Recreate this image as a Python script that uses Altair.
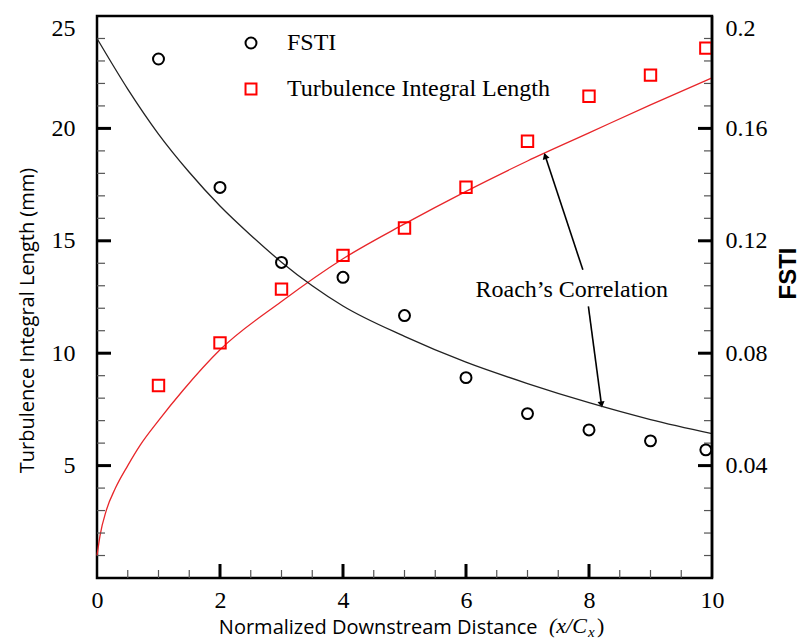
import math
import altair as alt
import pandas as pd

# ---------------- data ----------------
x_obs = [1, 2, 3, 4, 5, 6, 7, 8, 9, 9.9]
fsti_obs = [0.1847, 0.139, 0.1123, 0.107, 0.0934, 0.0713, 0.0585, 0.0527, 0.0488, 0.0456]
length_obs = [8.56, 10.46, 12.85, 14.35, 15.57, 17.38, 19.43, 21.43, 22.37, 23.57]

# Roach's correlation curves
fsti_curve_x = [0, 0.5, 1, 1.5, 2, 2.5, 3, 3.5, 4, 5, 6, 7, 8, 9, 10]
fsti_curve = [0.192, 0.174, 0.158, 0.1444, 0.1324, 0.122, 0.1124, 0.104, 0.0968,
              0.086, 0.0768, 0.0692, 0.0624, 0.0564, 0.0514]
length_curve_x = [0, 0.05, 0.15, 0.3, 0.5, 0.7, 1, 1.4, 2, 3, 4, 5, 6, 7, 8, 9, 10]
length_curve = [1.0, 1.9, 3.0, 4.0, 5.0, 5.9, 7.0, 8.35, 10.15, 12.3, 14.2, 15.75,
                17.2, 18.55, 19.8, 21.05, 22.25]

series_names = ["FSTI", "Turbulence Integral Length"]

# axis ticks
x_major = [0, 2, 4, 6, 8, 10]
x_minor = [0.5, 1, 1.5, 2.5, 3, 3.5, 4.5, 5, 5.5, 6.5, 7, 7.5, 8.5, 9, 9.5]
left_major = [5, 10, 15, 20, 25]
left_minor = [1, 2, 3, 4, 6, 7, 8, 9, 11, 12, 13, 14, 16, 17, 18, 19, 21, 22, 23, 24]
right_major = [0.04, 0.08, 0.12, 0.16, 0.2]
right_minor = [0.008, 0.016, 0.024, 0.032, 0.048, 0.056, 0.064, 0.072, 0.088, 0.096,
               0.104, 0.112, 0.128, 0.136, 0.144, 0.152, 0.168, 0.176, 0.184, 0.192]

# annotation (data coordinates on the left axis)
annot_text = "Roach\u2019s Correlation"
annot_x = [7.72]
annot_y = [12.8]
arrow_tail_x = [7.90, 7.99]
arrow_tail_y = [13.71, 12.08]
arrow_head_x = [7.27, 8.21]
arrow_head_y = [18.92, 7.56]

# ---------------- layout ----------------
W, H = 615, 562
PX_X = W / 10.0
PX_Y = H / 25.0

SERIF = "Liberation Serif"
SANS = "Open Sans"
FS = 24

xscale = alt.Scale(domain=[0, 10], nice=False, zero=False)
yscaleL = alt.Scale(domain=[0, 25], nice=False, zero=False)
yscaleR = alt.Scale(domain=[0, 0.2], nice=False, zero=False)

color_scale = alt.Scale(domain=series_names, range=["black", "#ff0000"])
shape_scale = alt.Scale(domain=series_names, range=["circle", "square"])
legend = alt.Legend(
    title=None, orient="none", legendX=142, legendY=15, padding=0,
    labelFont=SERIF, labelFontSize=FS, labelColor="black", labelLimit=0,
    symbolSize=120, symbolStrokeWidth=2, rowPadding=22, labelOffset=24,
)

x_axis = alt.Axis(
    values=x_major, domain=False, ticks=False, tickSize=0, grid=False,
    labelFont=SERIF, labelFontSize=FS, labelColor="black", labelPadding=10,
    labelFlush=False,
    title="Normalized Downstream Distance", titleFont=SANS, titleFontSize=20,
    titleFontWeight="normal", titleColor="black", titleAlign="right",
    titleX=440, titleY=55, titleBaseline="alphabetic",
)
y_axis_left = alt.Axis(
    values=left_major, orient="left", domain=False, ticks=False, tickSize=0, grid=False,
    labelFont=SERIF, labelFontSize=FS, labelColor="black", labelPadding=22,
    labelFlush=True,
    title="Turbulence Integral Length (mm)", titleFont=SANS, titleFontSize=20,
    titleFontWeight="normal", titleColor="black", titleAngle=270,
    titleX=-64, titleY=304, titleBaseline="alphabetic", titleAlign="center",
)
y_axis_right = alt.Axis(
    values=right_major, orient="right", domain=False, ticks=False, tickSize=0, grid=False,
    labelFont=SERIF, labelFontSize=FS, labelColor="black", labelPadding=13,
    labelFlush=True, format="~g",
    title="FSTI", titleFont="Liberation Sans", titleFontSize=24,
    titleFontWeight="bold", titleColor="black", titleAngle=270,
    titleX=83, titleY=257, titleBaseline="alphabetic", titleAlign="center",
)


def X(field):
    return alt.X(field, scale=xscale, axis=x_axis)


def YL(field):
    return alt.Y(field, scale=yscaleL, axis=y_axis_left)


def YR(field):
    return alt.Y(field, scale=yscaleR, axis=y_axis_right)


# ---------------- data frames ----------------
df_len_curve = pd.DataFrame({"x": length_curve_x, "y": length_curve})
df_fsti_curve = pd.DataFrame({"x": fsti_curve_x, "y": fsti_curve})
df_len = pd.DataFrame({"x": x_obs, "y": length_obs, "series": series_names[1]})
df_fsti = pd.DataFrame({"x": x_obs, "y": fsti_obs, "series": series_names[0]})

arrows = []
for tx, ty, hx, hy in zip(arrow_tail_x, arrow_tail_y, arrow_head_x, arrow_head_y):
    dxp = (hx - tx) * PX_X
    dyp = -(hy - ty) * PX_Y  # screen-down positive
    ln = math.hypot(dxp, dyp)
    ang = math.degrees(math.atan2(dxp, -dyp)) % 360
    back = 3.5
    arrows.append({
        "x": tx, "y": ty,
        "x2": hx - dxp / ln * 2 / PX_X, "y2": hy + dyp / ln * 2 / PX_Y,
        "px": hx - dxp / ln * back / PX_X,
        "py": hy + dyp / ln * back / PX_Y,
        "angle": ang,
    })
df_arrows = pd.DataFrame(arrows)
df_annot = pd.DataFrame({"x": annot_x, "y": annot_y, "t": [annot_text]})

# ---------------- left (length) layers ----------------
len_line = alt.Chart(df_len_curve).mark_line(
    color="#e8262a", strokeWidth=1.3, interpolate="monotone"
).encode(x=X("x:Q"), y=YL("y:Q"))

len_pts = alt.Chart(df_len).mark_point(filled=False, size=130, strokeWidth=2, opacity=1).encode(
    x=X("x:Q"), y=YL("y:Q"),
    color=alt.Color("series:N", scale=color_scale, legend=legend),
    shape=alt.Shape("series:N", scale=shape_scale, legend=legend),
)
arrow_lines = alt.Chart(df_arrows).mark_rule(color="black", strokeWidth=1.6).encode(
    x=X("x:Q"), y=YL("y:Q"), x2="x2:Q", y2="y2:Q",
)
arrow_heads = alt.Chart(df_arrows).mark_point(
    shape="triangle-up", filled=True, color="black", size=50, opacity=1
).encode(
    x=X("px:Q"), y=YL("py:Q"),
    angle=alt.Angle("angle:Q", scale=None),
)
annot = alt.Chart(df_annot).mark_text(
    font=SERIF, fontSize=FS, color="black", align="center", baseline="middle"
).encode(x=X("x:Q"), y=YL("y:Q"), text="t:N")


def xticks(vals, length, width, color):
    return alt.Chart(pd.DataFrame({"x": vals})).mark_rule(
        color=color, strokeWidth=width
    ).encode(x=X("x:Q"), y=alt.value(H), y2=alt.value(H - length))


def yticks(vals, yfun, x0, x1, width, color):
    return alt.Chart(pd.DataFrame({"y": vals})).mark_rule(
        color=color, strokeWidth=width
    ).encode(y=yfun("y:Q"), x=alt.value(x0), x2=alt.value(x1))


xt_major = xticks(x_major[1:-1], 14, 3, "black")
xt_minor = xticks(x_minor, 8, 1.2, "#555555")
lt_major = yticks(left_major[:-1], YL, 0, 14, 3, "black")
lt_minor = yticks(left_minor, YL, 0, 8, 1.2, "#555555")

# italic part of the x-axis title: (x/C_x)
xt_it1 = alt.Chart(pd.DataFrame({"t": ["(x/C"]})).mark_text(
    font=SERIF, fontSize=22, fontStyle="italic", color="black", align="left",
    baseline="alphabetic"
).encode(x=alt.value(452), y=alt.value(617), text="t:N")
xt_it2 = alt.Chart(pd.DataFrame({"t": ["x"]})).mark_text(
    font=SERIF, fontSize=15, fontStyle="italic", color="black", align="left",
    baseline="alphabetic"
).encode(x=alt.value(491), y=alt.value(621), text="t:N")
xt_it3 = alt.Chart(pd.DataFrame({"t": [")"]})).mark_text(
    font=SERIF, fontSize=22, color="black", align="left", baseline="alphabetic"
).encode(x=alt.value(500), y=alt.value(617), text="t:N")

left_group = alt.layer(
    len_line, lt_minor, lt_major, xt_minor, xt_major,
    len_pts, arrow_lines, arrow_heads, annot,
    xt_it1, xt_it2, xt_it3,
)

# ---------------- right (FSTI) layers ----------------
fsti_line = alt.Chart(df_fsti_curve).mark_line(
    color="#222222", strokeWidth=1.3, interpolate="monotone"
).encode(x=X("x:Q"), y=YR("y:Q"))
fsti_pts = alt.Chart(df_fsti).mark_point(filled=False, size=120, strokeWidth=2, opacity=1).encode(
    x=X("x:Q"), y=YR("y:Q"),
    color=alt.Color("series:N", scale=color_scale, legend=legend),
    shape=alt.Shape("series:N", scale=shape_scale, legend=legend),
)
rt_major = yticks(right_major[:-1], YR, W, W - 14, 3, "black")
rt_minor = yticks(right_minor, YR, W, W - 8, 1.2, "#555555")

# right frame line redrawn on top of the markers
right_frame = alt.Chart(pd.DataFrame({"k": [0]})).mark_rule(
    color="black", strokeWidth=2.5
).encode(x=alt.value(W), y=alt.value(0), y2=alt.value(H))

right_group = alt.layer(fsti_line, rt_minor, rt_major, fsti_pts, right_frame)

chart = alt.layer(left_group, right_group).resolve_scale(
    y="independent"
).properties(
    width=W, height=H,
    autosize=alt.AutoSizeParams(type="none"),
    padding={"left": 97, "top": 16, "right": 88, "bottom": 63},
    background="white",
).configure_view(
    stroke="black", strokeWidth=2.5
)

chart.save("out.html", embed_options={"renderer": "svg", "actions": False})
